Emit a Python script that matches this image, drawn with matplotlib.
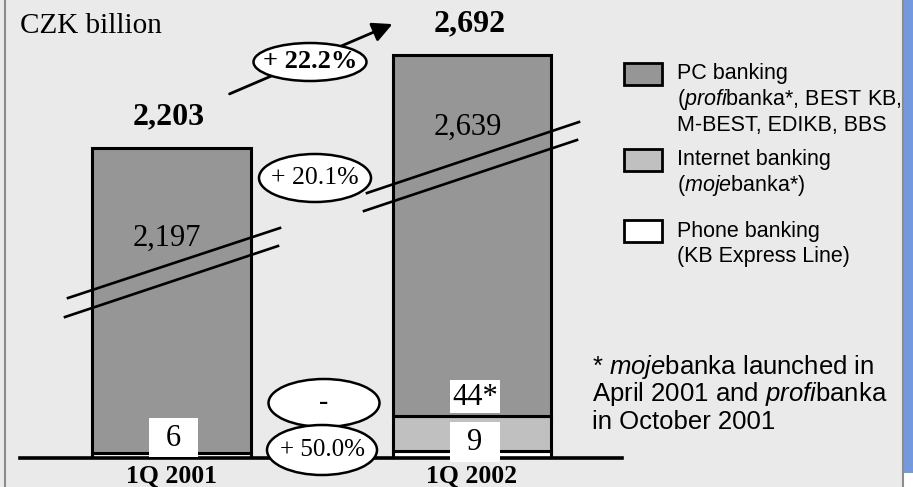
import numpy as np
import matplotlib.pyplot as plt
from matplotlib.patches import Ellipse, Rectangle, FancyArrowPatch
from matplotlib.lines import Line2D

plt.rcParams['mathtext.fontset'] = 'custom'
plt.rcParams['mathtext.rm'] = 'Liberation Sans'
plt.rcParams['mathtext.it'] = 'Liberation Sans:italic'

# data (CZK billion)
quarters = ['1Q 2001', '1Q 2002']
pc = [2197, 2639]
internet = [0, 44]
phone = [6, 9]
totals = [2203, 2692]
pc_labels = ['2,197', '2,639']
internet_labels = ['', '44*']
phone_labels = ['6', '9']
total_labels = ['2,203', '2,692']
growth = ['+ 22.2%', '+ 20.1%', '-', '+ 50.0%']   # total, PC, internet, phone

W, H = 913, 487
SERIF = 'Liberation Serif'
SANS = 'Liberation Sans'
PC_COL, NET_COL, PHONE_COL = '#969696', '#C0C0C0', 'white'


def fp(x, y):
    # pixel (top-left origin) -> figure fraction
    return (x / W, 1 - y / H)


# broken value axis: small values stretched, big ones compressed
kv = [-100, 0, 100, 1500, 4000]
kp = [-80, 0, 80, 176.3, 651.8]


def fwd(v):
    return np.interp(v, kv, kp)


def inv(p):
    return np.interp(p, kp, kv)


fig = plt.figure(figsize=(W / 100, H / 100), dpi=100, facecolor='#EAEAEA')
ax = fig.add_axes([0, 29 / H, 1, 458 / H])
ax.patch.set_visible(False)
ax.set_yscale('function', functions=(fwd, inv))

x = np.arange(len(quarters))
bw = 0.526
kw = dict(edgecolor='black', linewidth=2.2, zorder=2)
ax.bar(x, phone, bw, color=PHONE_COL, **kw)
ax.bar(x, internet, bw, bottom=phone, color=NET_COL, **kw)
ax.bar(x, pc, bw, bottom=np.add(phone, internet), color=PC_COL, **kw)

ax.set_xlim(-171.5 / 300.5, (W - 171.5) / 300.5)
ax.set_ylim(0, inv(458))
ax.yaxis.set_visible(False)
for s in ['left', 'right', 'top']:
    ax.spines[s].set_visible(False)
ax.spines['bottom'].set_linewidth(2.6)
ax.spines['bottom'].set_bounds((20 - 171.5) / 300.5, (622 - 171.5) / 300.5)
ax.set_xticks(x, quarters, fontfamily=SERIF, fontweight='bold', fontsize=18.5)
ax.tick_params(axis='x', length=0, pad=5)

# totals above the bars, PC values inside
pc_offsets = [-90, -72]
for i in x:
    ax.annotate(total_labels[i], (i, totals[i]), xytext=(-2, 31 * 0.72),
                textcoords='offset points', ha='center', va='center',
                fontfamily=SERIF, fontweight='bold', fontsize=23)
    ax.annotate(pc_labels[i], (i, totals[i]), xytext=(-3, pc_offsets[i] * 0.72),
                textcoords='offset points', ha='center', va='center',
                fontfamily=SERIF, fontsize=22)

# white value boxes near the base
fig.canvas.draw()
centers = [ax.transData.transform((i, 0))[0] for i in x]
box_specs = [(phone_labels[0], centers[0] + 2, 437.5, 49, 39),
             (phone_labels[1], centers[1] + 3, 442, 50, 40),
             (internet_labels[1], centers[1] + 3, 396.5, 50, 33)]
for lbl, cx, cy, bwid, bh in box_specs:
    fig.add_artist(Rectangle(fp(cx - bwid / 2, cy + bh / 2), bwid / W, bh / H,
                             transform=fig.transFigure, facecolor='white',
                             edgecolor='none', zorder=5))
    fig.text(*fp(cx, cy + 1), lbl, ha='center', va='center', fontfamily=SERIF,
             fontsize=22, zorder=6)

# break marks
breaks = [((68, 298), (280, 228)), ((65, 317), (278, 246)),
          ((367, 193), (579, 122)), ((364, 211), (577, 140))]
for (x0, y0), (x1, y1) in breaks:
    a, b = fp(x0, y0), fp(x1, y1)
    fig.add_artist(Line2D([a[0], b[0]], [a[1], b[1]], color='black', lw=1.9, zorder=4))

# growth arrow
fig.add_artist(FancyArrowPatch(fp(227, 95), fp(395, 23), transform=fig.transFigure,
                               arrowstyle='-|>,head_length=0.8,head_width=0.4',
                               mutation_scale=15, lw=2, color='black', zorder=4))

# growth ellipses
ell = [(310, 62, 113, 38, True, 19), (315, 178, 112, 48, False, 18.5),
       (324, 403, 111, 48, True, 20), (322, 450, 110, 50, False, 18)]
for (cx, cy, ew, eh, bold, fs), g in zip(ell, growth):
    fig.add_artist(Ellipse(fp(cx, cy), ew / W, eh / H, transform=fig.transFigure,
                           facecolor='white', edgecolor='black', lw=1.8, zorder=7))
    fig.text(*fp(cx, cy), g, ha='center', va='center', fontfamily=SERIF,
             fontweight='bold' if bold else 'normal', fontsize=fs, zorder=8)

fig.text(*fp(20, 26), 'CZK billion', ha='left', va='center', fontfamily=SERIF, fontsize=21)

# legend
legend_labels = [['PC banking', r'($\mathit{profi}$banka*, BEST KB,', 'M-BEST, EDIKB, BBS'],
                 ['Internet banking', r'$\mathit{(moje}$banka*)'],
                 ['Phone banking', '(KB Express Line)']]
legend_cols = [PC_COL, NET_COL, PHONE_COL]
row_y = [74, 160, 231]
for lines, col, y0 in zip(legend_labels, legend_cols, row_y):
    fig.add_artist(Rectangle(fp(624, y0 + 11), 38 / W, 22 / H, transform=fig.transFigure,
                             facecolor=col, edgecolor='black', lw=2))
    for k, t in enumerate(lines):
        fig.text(*fp(677, y0 + 25.5 * k), t, ha='left', va='center',
                 fontfamily=SANS, fontsize=15.5)

# footnote
notes = [r'* $\mathit{moje}$banka launched in',
         r'April 2001 and $\mathit{profi}$banka',
         'in October 2001']
for k, t in enumerate(notes):
    fig.text(*fp(592, 367 + 27.5 * k), t, ha='left', va='center',
             fontfamily=SANS, fontsize=18.5)

# slide frame
fig.add_artist(Line2D([5 / W, 5 / W], [0, 1], color='#8C8C8C', lw=1.5))
fig.add_artist(Rectangle(fp(904, 487), 9 / W, 14 / H, transform=fig.transFigure,
                         facecolor='white', edgecolor='none'))
fig.add_artist(Rectangle(fp(904, 473), 9 / W, 473 / H, transform=fig.transFigure,
                         facecolor='#7399DF', edgecolor='none'))
fig.add_artist(Line2D([903 / W, 903 / W], [0, 1], color='#8C8C8C', lw=1.5))

fig.savefig('out.png', dpi=100, facecolor=fig.get_facecolor())
